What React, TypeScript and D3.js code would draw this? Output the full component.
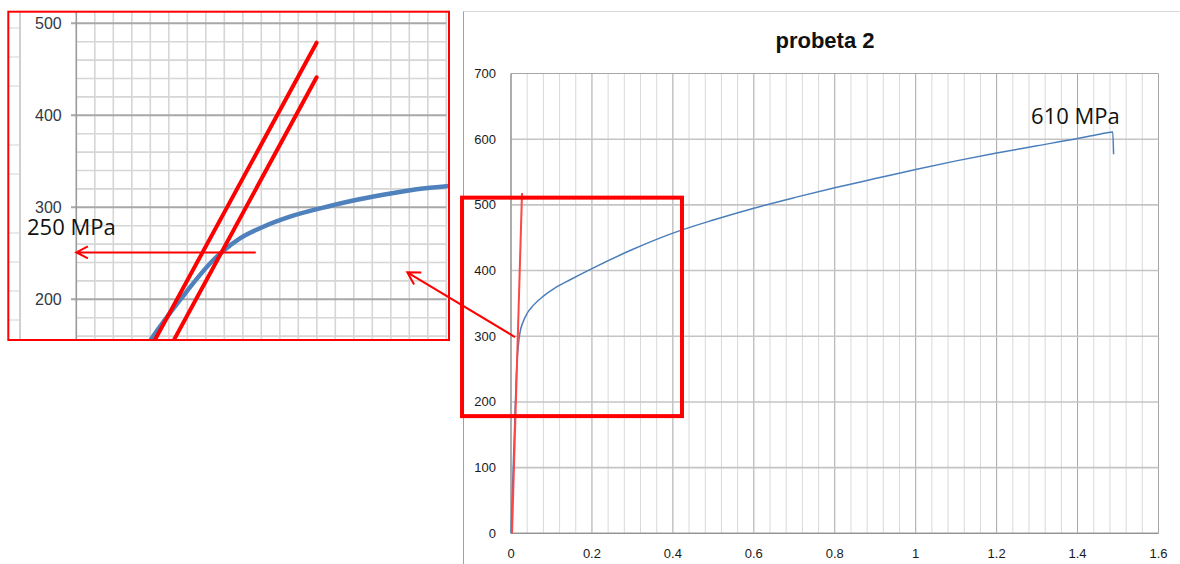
import React from "react";
import * as d3 from "d3";

// ---------- data (main chart: "probeta 2") ----------
const strain = [0, 0.003, 0.006, 0.009, 0.012, 0.015, 0.018, 0.022, 0.03, 0.04, 0.055, 0.08, 0.11, 0.146, 0.2, 0.3, 0.4, 0.5, 0.6, 0.7, 0.8, 0.9, 1.0, 1.1, 1.2, 1.3, 1.4, 1.45, 1.487, 1.489];
const stress = [0, 55, 110, 165, 220, 262, 285, 305, 322, 335, 347, 361, 374, 386, 403, 432, 457, 477, 495, 511, 526, 540, 554, 567, 579, 590, 601, 607, 611, 577];

const xTicks = [0, 0.2, 0.4, 0.6, 0.8, 1, 1.2, 1.4, 1.6];
const xTickLabels = ["0", "0.2", "0.4", "0.6", "0.8", "1", "1.2", "1.4", "1.6"];
const yTicks = [0, 100, 200, 300, 400, 500, 600, 700];

// elastic (red) line in main chart
const elasticX = [0.0025, 0.0272];
const elasticY = [0, 518];
// zoom rectangle (data coords of main chart)
const zoomBoxX = [-0.121, 0.4225];
const zoomBoxY = [178.4, 511];
// arrow from main chart to inset: tail, tip
const linkArrowX = [0.0099, -0.2562];
const linkArrowY = [298.8, 397.3];
const ultimateLabel = "610 MPa";
const titleText = "probeta 2";

// ---------- data (inset, zoomed, strain in units of 1e-3) ----------
const insetStrain = [3.5, 4.08, 5.61, 7.41, 7.95, 8.85, 10.11, 11.55, 13.71, 14.79, 16.59, 18.4, 20.3];
const insetStress = [140, 157.6, 199.3, 242.7, 252.8, 266.3, 278.9, 289.8, 301.4, 306.5, 313.6, 319.6, 323.5];
const insetYTicks = [200, 300, 400, 500];
const offset1X = [3.82, 12.99];
const offset1Y = [140, 478.9];
const offset2X = [4.85, 12.99];
const offset2Y = [140, 441.3];
const yieldArrowX = [9.7, 0];
const yieldStress = 251;
const yieldLabel = "250 MPa";
const stripLinesY = [28, 57, 86, 145, 174, 233, 262, 291, 320];

function arrow(x1: number, y1: number, x2: number, y2: number, len: number, angDeg: number) {
  const th = Math.atan2(y1 - y2, x1 - x2);
  const a = (angDeg * Math.PI) / 180;
  const b1 = [x2 + len * Math.cos(th - a), y2 + len * Math.sin(th - a)];
  const b2 = [x2 + len * Math.cos(th + a), y2 + len * Math.sin(th + a)];
  return `M${x1},${y1}L${x2},${y2}M${b1[0]},${b1[1]}L${x2},${y2}L${b2[0]},${b2[1]}`;
}

export default function App() {
  const W = 1180, H = 564;
  const x = d3.scaleLinear().domain([0, 1.6]).range([511, 1158.5]);
  const y = d3.scaleLinear().domain([0, 700]).range([533.3, 73.5]);
  const ix = d3.scaleLinear().domain([0, 20]).range([76.3, 446.3]);
  const iy = d3.scaleLinear().domain([200, 500]).range([299.3, 23.3]);

  const mainLine = d3
    .line<number>()
    .x((_, i) => x(strain[i]))
    .y((d) => y(d))
    .curve(d3.curveMonotoneX)(stress) as string;

  const insetLine = d3
    .line<number>()
    .x((_, i) => ix(insetStrain[i]))
    .y((d) => iy(d))
    .curve(d3.curveMonotoneX)(insetStress) as string;

  const minorX = d3.range(0, 41).map((i) => i * 0.04);
  const insetVX = d3.range(1, 21);
  const insetHY = d3.range(160, 501, 20);

  const inset = { l: 8.3, t: 11.7, r: 449, b: 340 };
  const font = "'Liberation Sans', Arial, sans-serif";
  const annFont = "'Open Sans', 'Liberation Sans', sans-serif";

  return (
    <svg width={W} height={H} style={{ position: "absolute", left: 0, top: 0, background: "#fff" }}>
      <defs>
        <clipPath id="insetClip">
          <rect x={inset.l} y={inset.t} width={inset.r - inset.l} height={inset.b - inset.t} />
        </clipPath>
      </defs>
      <rect x={0} y={0} width={W} height={H} fill="#fff" />

      {/* ---------- main chart ---------- */}
      <line x1={463.5} y1={11.5} x2={W} y2={11.5} stroke="#d9d9d9" strokeWidth={1} />
      <line x1={463.5} y1={11.5} x2={463.5} y2={H} stroke="#a0a0a0" strokeWidth={1} />
      <text x={825} y={48} textAnchor="middle" fontFamily={font} fontWeight="bold" fontSize={22} fill="#111">
        {titleText}
      </text>

      {minorX.map((v, i) => (
        <line
          key={"mx" + i}
          x1={x(v)}
          x2={x(v)}
          y1={y(0)}
          y2={y(700)}
          stroke={i % 5 === 0 ? "#a6a6a6" : "#d9d9d9"}
          strokeWidth={1}
        />
      ))}
      {yTicks.map((v) => (
        <line key={"hy" + v} x1={x(0)} x2={x(1.6)} y1={y(v)} y2={y(v)} stroke={v === 700 ? "#a6a6a6" : "#c4c4c4"} strokeWidth={v === 700 ? 1 : 1.6} />
      ))}
      <line x1={x(0)} x2={x(0)} y1={y(0)} y2={y(700)} stroke="#868686" strokeWidth={1} />
      <line x1={x(0)} x2={x(1.6)} y1={y(0)} y2={y(0)} stroke="#868686" strokeWidth={1} />

      {yTicks.map((v) => (
        <text key={"yl" + v} x={496} y={y(v)} dy="0.35em" textAnchor="end" fontFamily={font} fontSize={13} fill="#1a1a1a">
          {v}
        </text>
      ))}
      {xTicks.map((v, i) => (
        <text key={"xl" + v} x={x(v)} y={558} textAnchor="middle" fontFamily={font} fontSize={13} fill="#1a1a1a">
          {xTickLabels[i]}
        </text>
      ))}

      <path d={mainLine} fill="none" stroke="#4a7ebb" strokeWidth={1.5} />
      <line
        x1={x(elasticX[0])}
        y1={y(elasticY[0])}
        x2={x(elasticX[1])}
        y2={y(elasticY[1])}
        stroke="#ff4545"
        strokeWidth={2}
      />
      <rect
        x={x(zoomBoxX[0])}
        y={y(zoomBoxY[1])}
        width={x(zoomBoxX[1]) - x(zoomBoxX[0])}
        height={y(zoomBoxY[0]) - y(zoomBoxY[1])}
        fill="none"
        stroke="#ff0000"
        strokeWidth={4}
      />
      <text
        x={x(strain[strain.length - 2]) + 7}
        y={124}
        textAnchor="end"
        fontFamily={annFont}
        fontSize={22}
        fill="#111"
      >
        {ultimateLabel}
      </text>

      {/* ---------- inset ---------- */}
      <rect x={inset.l} y={inset.t} width={inset.r - inset.l} height={inset.b - inset.t} fill="#fff" />
      <g clipPath="url(#insetClip)">
        <line x1={20} x2={20} y1={inset.t} y2={inset.b} stroke="#cfcfcf" strokeWidth={2} />
        {stripLinesY.map((v) => (
          <line key={"sl" + v} x1={inset.l} x2={19} y1={v} y2={v} stroke="#e2e2e2" strokeWidth={1.5} />
        ))}
        {insetVX.map((v) => (
          <line key={"iv" + v} x1={ix(v)} x2={ix(v)} y1={inset.t} y2={inset.b} stroke="#d6d6d6" strokeWidth={1.6} />
        ))}
        {insetHY.map((v) => (
          <line
            key={"ih" + v}
            x1={ix(0)}
            x2={ix(20)}
            y1={iy(v)}
            y2={iy(v)}
            stroke={v % 100 === 0 ? "#a8a8a8" : "#d6d6d6"}
            strokeWidth={v % 100 === 0 ? 2 : 1.6}
          />
        ))}
        {insetYTicks.map((v) => (
          <line key={"it" + v} x1={71} x2={ix(0)} y1={iy(v)} y2={iy(v)} stroke="#a8a8a8" strokeWidth={2} />
        ))}
        <line x1={ix(0)} x2={ix(0)} y1={inset.t} y2={inset.b} stroke="#9a9a9a" strokeWidth={1.6} />
        {insetYTicks.map((v) => (
          <text key={"itl" + v} x={61.7} y={iy(v)} dy="0.33em" textAnchor="end" fontFamily={font} fontSize={16} fill="#333a44">
            {v}
          </text>
        ))}
        <path d={insetLine} fill="none" stroke="#4f81bd" strokeWidth={4.5} strokeLinecap="round" />
        <line x1={ix(offset1X[0])} y1={iy(offset1Y[0])} x2={ix(offset1X[1])} y2={iy(offset1Y[1])} stroke="#ff0000" strokeWidth={4} strokeLinecap="round" />
        <line x1={ix(offset2X[0])} y1={iy(offset2Y[0])} x2={ix(offset2X[1])} y2={iy(offset2Y[1])} stroke="#ff0000" strokeWidth={4} strokeLinecap="round" />
        <path
          d={arrow(ix(yieldArrowX[0]), iy(yieldStress), ix(yieldArrowX[1]), iy(yieldStress), 13, 27)}
          fill="none"
          stroke="#ff0000"
          strokeWidth={2}
        />
        <text x={27} y={235} fontFamily={annFont} fontSize={22} fill="#111">
          {yieldLabel}
        </text>
      </g>
      <rect x={inset.l} y={inset.t} width={inset.r - inset.l} height={inset.b - inset.t} fill="none" stroke="#ff0000" strokeWidth={2} />

      {/* link arrow from main chart into inset */}
      <path
        d={arrow(x(linkArrowX[0]), y(linkArrowY[0]), x(linkArrowX[1]), y(linkArrowY[1]), 14, 30)}
        fill="none"
        stroke="#ff0000"
        strokeWidth={2}
      />
    </svg>
  );
}
